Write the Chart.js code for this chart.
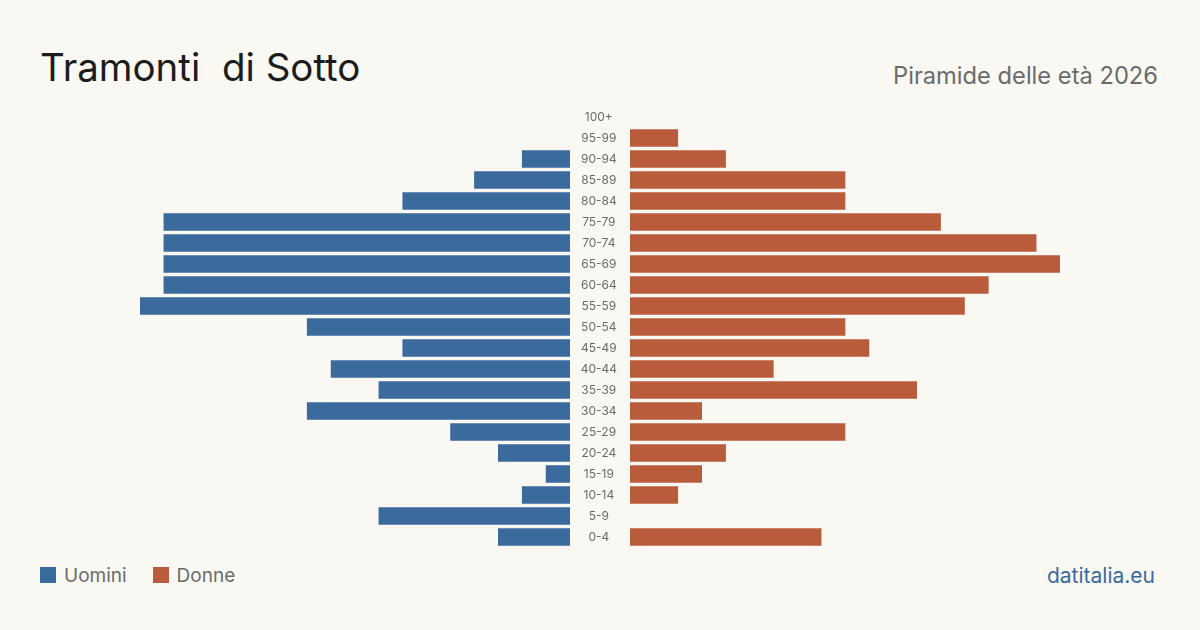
<!DOCTYPE html>
<html>
<head>
<meta charset="utf-8">
<script src="https://cdn.jsdelivr.net/npm/chart.js@4"></script>
<style>
  html, body { margin:0; padding:0; }
  body { width:1200px; height:630px; background:#f9f8f3; position:relative; overflow:hidden; font-family: Inter, "Noto Sans", sans-serif; }
  .abs { position:absolute; line-height:1; white-space:pre; }
  #title { left:40px; top:48px; font-size:38.5px; color:#1c1c1c; }
  #subtitle { right:42px; top:64px; font-size:23.7px; color:#6b6b6b; }
  #legend { left:40px; top:566px; font-size:19px; color:#6b6b6b; }
  .sw { display:inline-block; width:16px; height:16px; vertical-align:top; margin-top:1px; }
  .item { display:inline-block; margin-right:26px; }
  .item span.t { margin-left:8px; }
  #brand { right:45px; top:565px; font-size:21px; color:#3a6b9c; }
  canvas { position:absolute; }
  #cm { left:140px; top:86px; }
  #cw { left:570px; top:86px; }
</style>
</head>
<body>
<div id="title" class="abs">Tramonti  di Sotto</div>
<div id="subtitle" class="abs">Piramide delle età 2026</div>
<div id="legend" class="abs"><span class="item"><span class="sw" style="background:#3a6b9c"></span><span class="t">Uomini</span></span><span class="item"><span class="sw" style="background:#b85c3c"></span><span class="t">Donne</span></span></div>
<div id="brand" class="abs">datitalia.eu</div>
<canvas id="cm" width="430" height="482"></canvas>
<canvas id="cw" width="490" height="482"></canvas>
<script>
const ageGroups = ["100+","95-99","90-94","85-89","80-84","75-79","70-74","65-69","60-64","55-59","50-54","45-49","40-44","35-39","30-34","25-29","20-24","15-19","10-14","5-9","0-4"];
const men   = [0,0,2,4,7,17,17,17,17,18,11,7,10,8,11,5,3,1,2,8,3];
const women = [0,2,4,9,9,13,17,18,15,14,9,10,6,12,3,9,4,3,2,0,8];
const maxValue = 18;

const colorFor = (c) => (ctx) => (ctx.raw ? c : 'rgba(0,0,0,0)');

const common = {
  indexAxis: 'y',
  responsive: false,
  animation: false,
  devicePixelRatio: 1,
  layout: { padding: { top:20.5, bottom:20.5, left:0, right:0 } },
  plugins: { legend: { display:false }, tooltip: { enabled:false } }
};

new Chart(document.getElementById('cm'), {
  type: 'bar',
  data: { labels: ageGroups, datasets: [{ label:'Uomini', data: men, backgroundColor: colorFor('#3a6b9c'), barThickness:17, borderWidth:0 }] },
  options: Object.assign({}, common, {
    scales: {
      x: { display:false, min:0, max:maxValue, reverse:true },
      y: { display:false }
    }
  })
});

new Chart(document.getElementById('cw'), {
  type: 'bar',
  data: { labels: ageGroups, datasets: [{ label:'Donne', data: women, backgroundColor: colorFor('#b85c3c'), barThickness:17, borderWidth:0 }] },
  options: Object.assign({}, common, {
    scales: {
      x: { display:false, min:0, max:maxValue },
      y: {
        grid: { display:false, drawTicks:false },
        border: { display:false },
        ticks: { color:'#6b6b6b', font:{ family:'Inter', size:12 }, padding:13, crossAlign:'center' },
        afterFit: (s) => { s.width = 60; }
      }
    }
  })
});
</script>
</body>
</html>
